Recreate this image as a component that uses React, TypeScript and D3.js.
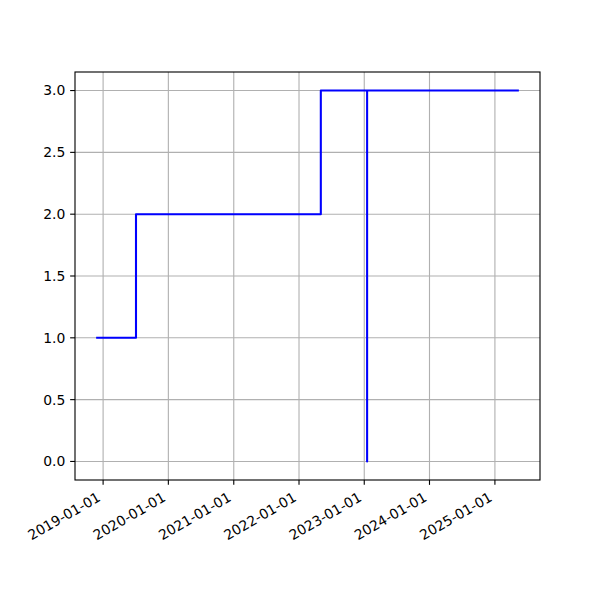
import React from "react";
import * as d3 from "d3";

const dates = ["2018-11-23", "2019-07-04", "2022-05-03", "2023-01-17", "2023-01-17", "2025-05-15"];
const values = [1, 2, 3, 0, 3, 3];
const xTickLabels = ["2019-01-01", "2020-01-01", "2021-01-01", "2022-01-01", "2023-01-01", "2024-01-01", "2025-01-01"];
const yTicks = [0, 0.5, 1, 1.5, 2, 2.5, 3];

const W = 600, H = 600;
const L = 75, R = 540, T = 72, B = 480;
const FS = 13.9;
const TL = 4.86;

export default function App() {
  const parse = d3.utcParse("%Y-%m-%d");
  const pts = dates.map((d, i) => ({ x: parse(d)!, y: values[i] }));
  const [x0, x1] = d3.extent(pts, (p) => p.x) as [Date, Date];
  const span = +x1 - +x0;
  const x = d3.scaleUtc().domain([new Date(+x0 - span * 0.05), new Date(+x1 + span * 0.05)]).range([L, R]);
  const y = d3.scaleLinear().domain([-0.15, 3.15]).range([B, T]);
  const line = d3.line<{ x: Date; y: number }>().x((p) => x(p.x)).y((p) => y(p.y)).curve(d3.curveStepAfter);
  const font = "DejaVu Sans, sans-serif";
  return (
    <svg width={W} height={H} style={{ position: "absolute", left: 0, top: 0, background: "#fff" }} fontFamily={font}>
      <rect x={0} y={0} width={W} height={H} fill="#fff" />
      {xTickLabels.map((t) => {
        const xx = x(parse(t)!);
        return <line key={"gx" + t} x1={xx} x2={xx} y1={T} y2={B} stroke="#b0b0b0" strokeWidth={1.11} />;
      })}
      {yTicks.map((v) => (
        <line key={"gy" + v} x1={L} x2={R} y1={y(v)} y2={y(v)} stroke="#b0b0b0" strokeWidth={1.11} />
      ))}
      <path d={line(pts) || ""} fill="none" stroke="#0000ff" strokeWidth={2.08} strokeLinejoin="round" />
      <rect x={L} y={T} width={R - L} height={B - T} fill="none" stroke="#000" strokeWidth={1.11} />
      {xTickLabels.map((t) => {
        const xx = x(parse(t)!);
        return (
          <g key={"tx" + t}>
            <line x1={xx} x2={xx} y1={B} y2={B + TL} stroke="#000" strokeWidth={1.11} />
            <text transform={`translate(${xx},${503}) rotate(-30)`} textAnchor="end" dy="-0.24em" fontSize={FS} fill="#000">
              {t}
            </text>
          </g>
        );
      })}
      {yTicks.map((v) => (
        <g key={"ty" + v}>
          <line x1={L - TL} x2={L} y1={y(v)} y2={y(v)} stroke="#000" strokeWidth={1.11} />
          <text x={L - 2 * TL} y={y(v)} dy="0.35em" textAnchor="end" fontSize={FS} fill="#000">
            {d3.format(".1f")(v)}
          </text>
        </g>
      ))}
    </svg>
  );
}
